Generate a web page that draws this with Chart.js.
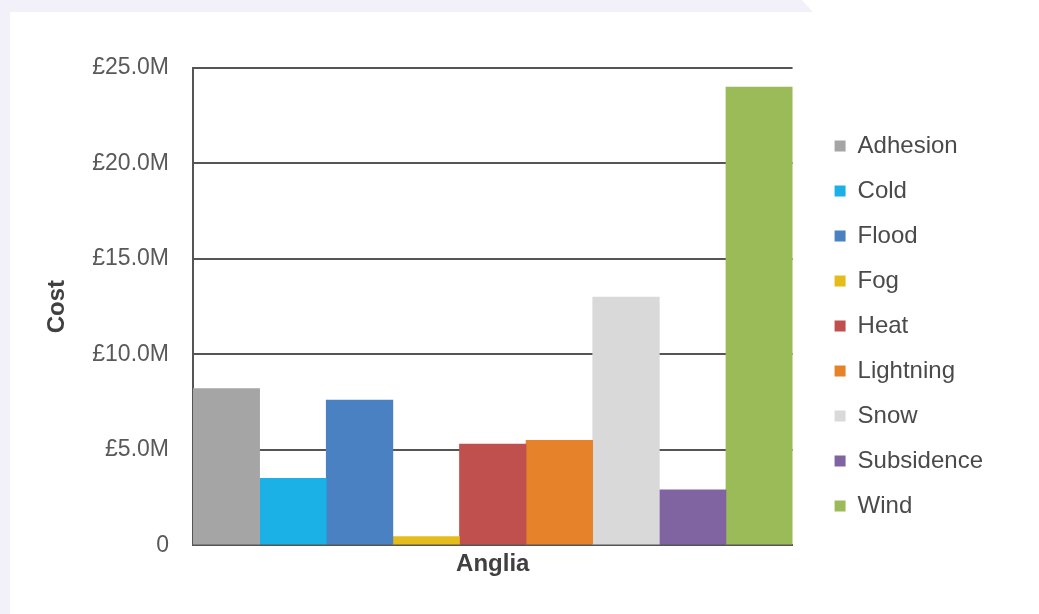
<!DOCTYPE html>
<html>
<head>
<meta charset="utf-8">
<script src="https://cdn.jsdelivr.net/npm/chart.js@4.4.1/dist/chart.umd.min.js"></script>
<style>
  html, body { margin: 0; padding: 0; background: #fff; }
  #wrap { position: relative; width: 1039px; height: 614px; overflow: hidden; }
  .band-top {
    position: absolute; left: 0; top: 0; width: 820px; height: 12px;
    background: #f2f0f8;
    clip-path: polygon(0 0, 802px 0, 813px 12px, 0 12px);
  }
  .band-left { position: absolute; left: 0; top: 0; width: 10px; height: 614px; background: #f2f0f8; }
  #costChart { position: absolute; left: 0; top: 0; }
</style>
</head>
<body>
<div id="wrap">
  <div class="band-top"></div>
  <div class="band-left"></div>
  <canvas id="costChart" width="1039" height="614"></canvas>
</div>
<script>
// Weather-related cost by cause, Anglia route (£ millions)
const regions = ["Anglia"];
const causes = ["Adhesion", "Cold", "Flood", "Fog", "Heat", "Lightning", "Snow", "Subsidence", "Wind"];
const costMillions = [8.2, 3.5, 7.6, 0.45, 5.3, 5.5, 13.0, 2.9, 24.0];
const causeColours = ["#a5a5a5", "#1bb0e6", "#4a81c2", "#e4bc1c", "#c0504d", "#e6822a", "#d9d9d9", "#8064a2", "#9bbb59"];
const yTicks = [0, 5, 10, 15, 20, 25];

const axisGrey = "#555555";
const textGrey = "#404040";
const fontFamily = "'Liberation Sans', Arial, sans-serif";

const datasets = causes.map((name, i) => ({
  label: name,
  data: [costMillions[i]],
  backgroundColor: causeColours[i],
  borderWidth: 0,
  categoryPercentage: 1,
  barPercentage: 1
}));

const ctx = document.getElementById("costChart").getContext("2d");

new Chart(ctx, {
  type: "bar",
  data: { labels: regions, datasets: datasets },
  options: {
    responsive: false,
    animation: false,
    layout: { padding: { left: 43, top: 68, right: 46, bottom: 30 } },
    scales: {
      x: {
        grid: { display: false, drawTicks: false },
        border: { display: true, color: axisGrey, width: 2 },
        ticks: {
          color: textGrey,
          padding: 5,
          font: { family: fontFamily, size: 24, weight: "bold" }
        }
      },
      y: {
        min: 0,
        max: 25,
        afterBuildTicks: (scale) => { scale.ticks = yTicks.map(v => ({ value: v })); },
        afterFit: (scale) => { scale.width = 150; },
        grid: { color: axisGrey, lineWidth: 2, drawTicks: false },
        border: { display: true, color: axisGrey, width: 2 },
        ticks: {
          color: "#595959",
          padding: 24,
          font: { family: fontFamily, size: 23 },
          callback: (v) => v === 0 ? "0" : "£" + v.toFixed(1) + "M"
        },
        title: {
          display: true,
          text: "Cost",
          color: textGrey,
          padding: 0,
          font: { family: fontFamily, size: 24, weight: "bold" }
        }
      },
      // empty right-hand axis, only keeps the legend clear of the plot
      gap: {
        type: "linear",
        position: "right",
        grid: { display: false },
        border: { display: false },
        ticks: { display: false },
        afterFit: (scale) => { scale.width = 21; }
      }
    },
    plugins: {
      legend: {
        position: "right",
        align: "center",
        maxWidth: 300,
        labels: {
          boxWidth: 11,
          boxHeight: 11,
          padding: 21,
          color: "#4a4a4a",
          font: { family: fontFamily, size: 24 }
        }
      },
      tooltip: { enabled: false }
    }
  }
});
</script>
</body>
</html>
